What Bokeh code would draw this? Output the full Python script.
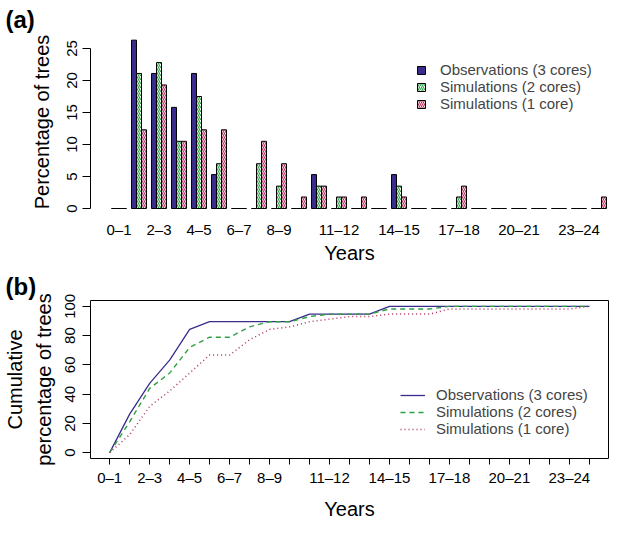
from bokeh.plotting import figure
from bokeh.models import (ColumnDataSource, Range1d, FixedTicker, Legend,
                          LegendItem, Title)
from bokeh.layouts import column
from bokeh.transform import dodge
from bokeh.embed import file_html
from bokeh.resources import INLINE

# ---------------- data ----------------
years = ["0–1", "1–2", "2–3", "3–4", "4–5", "5–6", "6–7", "7–8", "8–9",
         "9–10", "10–11", "11–12", "12–13", "13–14", "14–15", "15–16",
         "16–17", "17–18", "18–19", "19–20", "20–21", "21–22", "22–23",
         "23–24", "24–25"]
shown_labels = ["0–1", "2–3", "4–5", "6–7", "8–9", "11–12", "14–15",
                "17–18", "20–21", "23–24"]
series_names = ["Observations (3 cores)", "Simulations (2 cores)",
                "Simulations (1 core)"]

# panel (a): percentage of trees per age class
obs = [0, 26.3, 21.1, 15.8, 21.1, 5.3, 0, 0, 0, 0, 5.3, 0, 0, 0, 5.3,
       0, 0, 0, 0, 0, 0, 0, 0, 0, 0]
sim2 = [0, 21.1, 22.8, 10.5, 17.5, 7.0, 0, 7.0, 3.5, 0, 3.5, 1.8, 0, 0, 3.5,
        0, 0, 1.8, 0, 0, 0, 0, 0, 0, 0]
sim1 = [0, 12.3, 19.3, 10.5, 12.3, 12.3, 0, 10.5, 7.0, 1.8, 3.5, 1.8, 1.8, 0,
        1.8, 0, 0, 3.5, 0, 0, 0, 0, 0, 0, 1.8]

# panel (b): cumulative percentage of trees
cum_obs = [0, 26.3, 47.4, 63.2, 84.2, 89.5, 89.5, 89.5, 89.5, 89.5, 94.7,
           94.7, 94.7, 94.7, 100, 100, 100, 100, 100, 100, 100, 100, 100,
           100, 100]
cum_sim2 = [0, 21.1, 43.9, 54.4, 71.9, 78.9, 78.9, 86.0, 89.5, 89.5, 93.0,
            94.7, 94.7, 94.7, 98.2, 98.2, 98.2, 100, 100, 100, 100, 100, 100,
            100, 100]
cum_sim1 = [0, 12.3, 31.6, 42.1, 54.4, 66.7, 66.7, 77.2, 84.2, 86.0, 89.5,
            91.2, 93.0, 93.0, 94.7, 94.7, 94.7, 98.2, 98.2, 98.2, 98.2, 98.2,
            98.2, 98.2, 100]

y_ticks_a = [0, 5, 10, 15, 20, 25]
y_ticks_b = [0, 20, 40, 60, 80, 100]

# ---------------- style ----------------
FONT = "Liberation Sans"
BLUE = "#3A2C8C"
GREEN = "#2EA043"
PINK = "#B03060"

idx = list(range(len(years)))
overrides = {i: (years[i] if years[i] in shown_labels else "") for i in idx}

src = ColumnDataSource(dict(idx=idx, obs=obs, sim2=sim2, sim1=sim1,
                            cobs=cum_obs, csim2=cum_sim2, csim1=cum_sim1))


def style_common(p):
    p.xgrid.grid_line_color = None
    p.ygrid.grid_line_color = None
    for ax in (p.xaxis[0], p.yaxis[0]):
        ax.major_label_text_font = FONT
        ax.major_label_text_font_size = "15px"
        ax.major_label_text_color = "black"
        ax.axis_label_text_font = FONT
        ax.axis_label_text_font_size = "20px"
        ax.axis_label_text_font_style = "normal"
        ax.axis_label_text_color = "black"
        ax.minor_tick_line_color = None
        ax.major_tick_line_color = "black"
        ax.major_tick_in = 0


def panel_title(text):
    return Title(text=text, align="left", offset=-85, standoff=2,
                 text_font=FONT, text_font_size="24px",
                 text_font_style="bold", text_color="black")


# ---------------- panel (a) ----------------
pa = figure(width=611, height=266, x_range=Range1d(-1.425, 24.475),
            y_range=Range1d(-0.31, 27.34), output_backend="svg",
            toolbar_location=None, title=None,
            min_border_left=90, min_border_right=3, min_border_top=33,
            min_border_bottom=56)
pa.outline_line_color = None
style_common(pa)
pa.add_layout(panel_title("(a)"), "above")

r_obs = pa.vbar(x=dodge("idx", -0.25), top="obs", width=0.25, source=src,
                fill_color=BLUE, line_color="black", line_width=1)
r_s2 = pa.vbar(x="idx", top="sim2", width=0.25, source=src,
               fill_color="white", hatch_pattern="/", hatch_color=GREEN,
               hatch_scale=4, hatch_weight=1.1, line_color="black",
               line_width=1)
r_s1 = pa.vbar(x=dodge("idx", 0.25), top="sim1", width=0.25, source=src,
               fill_color="white", hatch_pattern="\\", hatch_color=PINK,
               hatch_scale=4, hatch_weight=1.1, line_color="black",
               line_width=1)

xa = pa.xaxis[0]
xa.ticker = FixedTicker(ticks=idx)
xa.major_label_overrides = overrides
xa.axis_line_color = None
xa.major_tick_line_color = None
xa.major_label_standoff = 4
xa.axis_label = "Years"
xa.axis_label_standoff = 1

ya = pa.yaxis[0]
ya.ticker = FixedTicker(ticks=y_ticks_a)
ya.bounds = (0, 25)
ya.major_tick_out = 8
ya.major_label_orientation = "vertical"
ya.major_label_standoff = 5
ya.axis_label = "Percentage of trees"
ya.axis_label_standoff = 12

leg_a = Legend(items=[LegendItem(label=series_names[0], renderers=[r_obs]),
                      LegendItem(label=series_names[1], renderers=[r_s2]),
                      LegendItem(label=series_names[2], renderers=[r_s1])],
               location=(326, 98), glyph_width=10, glyph_height=10,
               label_standoff=14, label_height=14, spacing=0, padding=0,
               margin=0, border_line_color=None, background_fill_alpha=0,
               label_text_font=FONT, label_text_font_size="15px",
               label_text_line_height=1.0)
pa.add_layout(leg_a)

# ---------------- panel (b) ----------------
pb = figure(width=611, height=258, x_range=Range1d(-0.96, 24.96),
            y_range=Range1d(-4, 104), output_backend="svg",
            toolbar_location=None, title=None,
            min_border_left=90, min_border_right=3, min_border_top=34,
            min_border_bottom=66)
pb.outline_line_color = "black"
pb.outline_line_width = 1
style_common(pb)
pb.add_layout(panel_title("(b)"), "above")

l_obs = pb.line("idx", "cobs", source=src, line_color=BLUE, line_width=1.3)
l_s2 = pb.line("idx", "csim2", source=src, line_color=GREEN, line_width=1.4,
               line_dash="5 4")
l_s1 = pb.line("idx", "csim1", source=src, line_color=PINK, line_width=1.5,
               line_dash="1 3")

xb = pb.xaxis[0]
xb.ticker = FixedTicker(ticks=idx)
xb.major_label_overrides = overrides
xb.axis_line_color = None
xb.major_tick_out = 6
xb.major_label_standoff = 4
xb.axis_label = "Years"
xb.axis_label_standoff = 9

yb = pb.yaxis[0]
yb.ticker = FixedTicker(ticks=y_ticks_b)
yb.axis_line_color = None
yb.major_tick_out = 8
yb.major_label_orientation = "vertical"
yb.major_label_standoff = 7
yb.axis_label = "Cumulative\npercentage of trees"
yb.axis_label_standoff = 8
yb.axis_label_text_line_height = 1.3

leg_b = Legend(items=[LegendItem(label=series_names[0], renderers=[l_obs]),
                      LegendItem(label=series_names[1], renderers=[l_s2]),
                      LegendItem(label=series_names[2], renderers=[l_s1])],
               location=(310, 21), glyph_width=25, glyph_height=14,
               label_standoff=11, label_height=14, spacing=0, padding=0,
               margin=0, border_line_color=None, background_fill_alpha=0,
               label_text_font=FONT, label_text_font_size="15px",
               label_text_line_height=1.0)
pb.add_layout(leg_b)

layout = column(pa, pb)
open("out.html", "w").write(file_html(layout, INLINE))
